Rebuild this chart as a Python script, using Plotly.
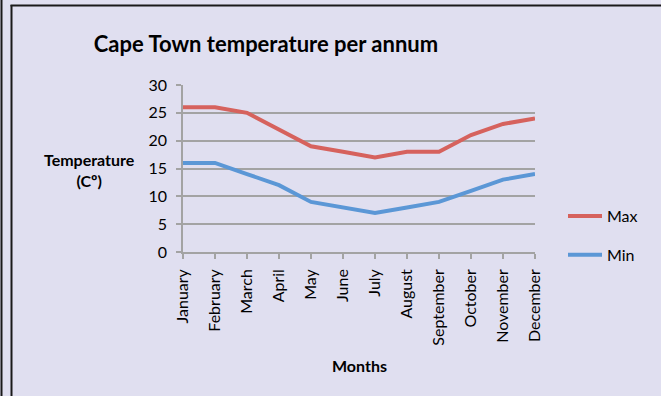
import plotly.graph_objects as go

# Monthly temperatures for Cape Town (°C)
months = ["January", "February", "March", "April", "May", "June",
          "July", "August", "September", "October", "November", "December"]
max_temp = [26, 26, 25, 22, 19, 18, 17, 18, 18, 21, 23, 24]
min_temp = [16, 16, 14, 12, 9, 8, 7, 8, 9, 11, 13, 14]
y_ticks = [0, 5, 10, 15, 20, 25, 30]

W, H = 661, 396
# plot area in pixels
PX0, PX1 = 183, 535
PY0, PY1 = 85, 252

BG = "#E0DFF0"
GRID = "#A3A3A3"
FONT = "Lato"


def fx(px):
    return (px - PX0) / (PX1 - PX0)


def fy(py):
    return (PY1 - py) / (PY1 - PY0)


x = list(range(len(months)))

fig = go.Figure()
fig.add_trace(go.Scatter(x=x, y=max_temp, mode="lines", name="Max",
                         line=dict(color="#D6625D", width=4),
                         legendgroup="max"))
fig.add_trace(go.Scatter(x=x, y=min_temp, mode="lines", name="Min",
                         line=dict(color="#5B97D6", width=4),
                         legendgroup="min"))

fig.update_layout(
    width=W, height=H,
    margin=dict(l=PX0, r=W - PX1, t=PY0, b=H - PY1, pad=0),
    paper_bgcolor=BG, plot_bgcolor=BG,
    font=dict(family=FONT, color="#000000", size=15),
    showlegend=True,
    legend=dict(x=fx(563), y=fy(199), xanchor="left", yanchor="top",
                bgcolor="rgba(0,0,0,0)", font=dict(size=16, family=FONT),
                tracegroupgap=15, itemwidth=34),
    title=dict(text="<b>Cape Town temperature per annum</b>",
               x=266 / W, xanchor="center", y=1 - 44 / H, yanchor="middle",
               font=dict(size=22, family=FONT, color="#000000")),
)

fig.update_xaxes(
    range=[0, len(months) - 1], tickmode="array", tickvals=x, ticktext=months,
    tickangle=-90, showgrid=False, zeroline=False,
    showline=True, linecolor=GRID, linewidth=1.5,
    ticks="outside", ticklen=5, tickcolor=GRID, tickwidth=1.5,
    ticklabelstandoff=4,
    tickfont=dict(size=16, family=FONT), fixedrange=True,
)
fig.update_yaxes(
    range=[0, 30], tickmode="array", tickvals=y_ticks,
    showgrid=True, gridcolor=GRID, gridwidth=1.5, zeroline=False,
    showline=True, linecolor=GRID, linewidth=1.5,
    ticks="outside", ticklen=5, tickcolor=GRID, tickwidth=1.5,
    ticklabelstandoff=6,
    tickfont=dict(size=16, family=FONT), fixedrange=True,
)

# Axis titles
fig.add_annotation(text="<b>Temperature<br>(Cº)</b>", xref="paper", yref="paper",
                   x=fx(89), y=fy(170), xanchor="center", yanchor="middle",
                   showarrow=False, font=dict(size=16, family=FONT))
fig.add_annotation(text="<b>Months</b>", xref="paper", yref="paper",
                   x=fx(359), y=fy(365), xanchor="center", yanchor="middle",
                   showarrow=False, font=dict(size=16, family=FONT))

# Frame lines around the chart
frame = dict(color="#1A1A1A", width=2)
fig.add_shape(type="line", xref="paper", yref="paper",
              x0=fx(1.5), x1=fx(1.5), y0=fy(-5), y1=fy(H + 5), line=frame)
fig.add_shape(type="line", xref="paper", yref="paper",
              x0=fx(11.5), x1=fx(11.5), y0=fy(5), y1=fy(H + 5), line=frame)
fig.add_shape(type="line", xref="paper", yref="paper",
              x0=fx(10.5), x1=fx(W + 5), y0=fy(5.5), y1=fy(5.5), line=frame)

fig.write_html("out.html")
